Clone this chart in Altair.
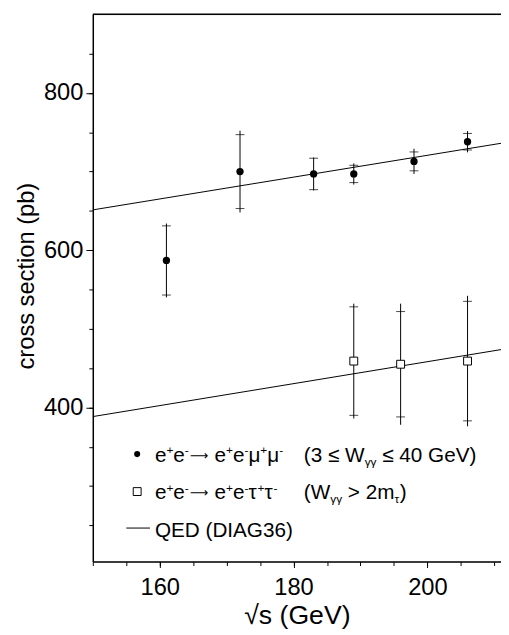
import altair as alt
import pandas as pd

# ---- data ----
sqrt_s_mu = [161, 172, 183, 189, 198, 206]
xsec_mu = [587, 700, 697, 697, 713, 738]
stat_mu = [44, 47, 20, 11, 12, 10.5]
tot_mu = [47, 52, 21, 13.5, 16, 13.5]

sqrt_s_tau = [189, 196, 206]
xsec_tau = [459, 455, 459]
stat_tau = [69, 67, 76]
tot_tau = [73, 77, 83]

qed_sqrt_s = [150, 211]
qed_mu = [651.3, 736.0]
qed_tau = [388.4, 473.6]

x_major = [160, 180, 200]
x_minor = list(range(150, 215, 5))
y_major = [400, 600, 800]
y_minor = list(range(250, 900, 50))

X_DOMAIN = [150, 211]
Y_DOMAIN = [204, 900]

FONT = "Liberation Sans"

# ---- tables ----
pts = pd.DataFrame({
    "s": sqrt_s_mu + sqrt_s_tau,
    "xs": xsec_mu + xsec_tau,
    "stat": stat_mu + stat_tau,
    "tot": tot_mu + tot_tau,
    "proc": ["mu"] * len(sqrt_s_mu) + ["tau"] * len(sqrt_s_tau),
})
qed = pd.DataFrame({
    "s": qed_sqrt_s * 2,
    "xs": qed_mu + qed_tau,
    "proc": ["mu"] * len(qed_sqrt_s) + ["tau"] * len(qed_sqrt_s),
})

xs_ = alt.Scale(domain=X_DOMAIN, nice=False, zero=False)
ys_ = alt.Scale(domain=Y_DOMAIN, nice=False, zero=False)

# ---- legend text pieces (layout helper, Arial/Liberation metrics) ----
WID = {" ": 278, "e": 556, "(": 333, ")": 333, "W": 944, "G": 778, "V": 667,
       ">": 584, "m": 833, "≤": 549, "μ": 576, "τ": 440, "γ": 500,
       "+": 584, "-": 333, "Q": 778, "E": 667, "D": 722, "I": 278, "A": 667}
FS, FS_S, FS_ARROW = 21, 12, 13


def tw(s, fs):
    return sum(WID.get(c, 556) for c in s) * fs / 1000.0


def pieces(parts, x0, base):
    out = []
    x = x0
    for txt, kind in parts:
        if kind == "gap":
            x += 0.278 * FS
            continue
        if kind == "arrow":
            out.append({"t": txt, "px": x + 1, "py": base - 2, "fs": FS_ARROW, "f": "arrow"})
            x += 1.7 * FS_ARROW + 4
            continue
        fs = FS if kind == "n" else FS_S
        dy = 0 if kind == "n" else (-8 if kind == "sup" else 4)
        out.append({"t": txt, "px": x, "py": base + dy, "fs": fs, "f": "main"})
        x += tw(txt, fs)
    return out


rowA_mu = [("e", "n"), ("+", "sup"), ("e", "n"), ("-", "sup"), ("⟶", "arrow"), ("e", "n"), ("+", "sup"),
           ("e", "n"), ("-", "sup"), ("μ", "n"), ("+", "sup"), ("μ", "n"), ("-", "sup")]
rowB_mu = [("(3 ≤ W", "n"), ("γγ", "sub"), ("", "gap"), ("≤ 40 GeV)", "n")]
rowA_tau = [("e", "n"), ("+", "sup"), ("e", "n"), ("-", "sup"), ("⟶", "arrow"), ("e", "n"), ("+", "sup"),
            ("e", "n"), ("-", "sup"), ("τ", "n"), ("+", "sup"), ("τ", "n"), ("-", "sup")]
rowB_tau = [("(W", "n"), ("γγ", "sub"), ("", "gap"), ("> 2m", "n"), ("τ", "sub"), (")", "n")]
row_qed = [("QED (DIAG36)", "n")]

leg = (pieces(rowA_mu, 63, 454) + pieces(rowB_mu, 214, 454)
       + pieces(rowA_tau, 63, 492) + pieces(rowB_tau, 214, 492)
       + pieces(row_qed, 63, 530))
leg_df = pd.DataFrame(leg)

AX = dict(domainColor="black", tickColor="black", labelColor="black", titleColor="black",
          labelFont=FONT, titleFont=FONT, titleFontWeight="normal", grid=False)

# ---- layers ----
minor_x = alt.Chart(pd.DataFrame({"v": x_minor})).mark_tick(opacity=0).encode(
    x=alt.X("v:Q", scale=xs_, axis=alt.Axis(values=x_minor, orient="bottom", labels=False,
                                             domain=False, tickSize=4, tickWidth=1, title="", **AX))
)
minor_y = alt.Chart(pd.DataFrame({"v": y_minor})).mark_tick(opacity=0).encode(
    y=alt.Y("v:Q", scale=ys_, axis=alt.Axis(values=y_minor, orient="left", labels=False,
                                             domain=False, tickSize=4, tickWidth=1, title="", **AX))
)

top_rule = alt.Chart(pd.DataFrame({"v": [900]})).mark_rule(color="black", strokeWidth=1.5).encode(
    y=alt.Y("v:Q", scale=ys_, axis=None)
)

lines = alt.Chart(qed).mark_line(color="black", strokeWidth=1, clip=True).encode(
    x=alt.X("s:Q", scale=xs_, axis=alt.Axis(
        values=x_major, orient="bottom", tickSize=6, tickWidth=1, format="d",
        domainWidth=1.5, labelFontSize=24, labelBaseline="alphabetic", labelPadding=27,
        labelFlush=False, title="√s (GeV)", titleFontSize=27, titleY=63,
        titleBaseline="alphabetic", **AX)),
    y=alt.Y("xs:Q", scale=ys_, axis=alt.Axis(
        values=y_major, orient="left", tickSize=7, tickWidth=1, format="d",
        domainWidth=1.5, labelFontSize=24, labelPadding=3,
        title="cross section (pb)", titleFontSize=24, titleAngle=270, titleX=-60, titleY=265,
        titleBaseline="alphabetic", titleAlign="center", **AX)),
    detail="proc:N",
)

base = alt.Chart(pts).transform_calculate(
    tlo="datum.xs - datum.tot", thi="datum.xs + datum.tot",
    slo="datum.xs - datum.stat", shi="datum.xs + datum.stat",
)

err = base.mark_rule(color="black", strokeWidth=1).encode(
    x=alt.X("s:Q", scale=xs_, axis=None),
    y=alt.Y("tlo:Q", scale=ys_, axis=None),
    y2="thi:Q",
)
cap_lo = base.mark_point(shape="M-1,0L1,0", size=81, filled=False, color="black", strokeWidth=1).encode(
    x=alt.X("s:Q", scale=xs_, axis=None),
    y=alt.Y("slo:Q", scale=ys_, axis=None),
)
cap_hi = base.mark_point(shape="M-1,0L1,0", size=81, filled=False, color="black", strokeWidth=1).encode(
    x=alt.X("s:Q", scale=xs_, axis=None),
    y=alt.Y("shi:Q", scale=ys_, axis=None),
)
mu_pts = base.transform_filter("datum.proc == 'mu'").mark_point(
    shape="circle", filled=True, size=55, color="black", opacity=1).encode(
    x=alt.X("s:Q", scale=xs_, axis=None),
    y=alt.Y("xs:Q", scale=ys_, axis=None),
)
tau_pts = base.transform_filter("datum.proc == 'tau'").mark_point(
    shape="square", filled=True, size=64, fill="white", stroke="black", strokeWidth=1, opacity=1).encode(
    x=alt.X("s:Q", scale=xs_, axis=None),
    y=alt.Y("xs:Q", scale=ys_, axis=None),
)

# legend
leg_text = alt.Chart(leg_df).transform_filter("datum.f == 'main'").mark_text(
    align="left", baseline="alphabetic", color="black", font=FONT).encode(
    x=alt.X("px:Q", scale=None, axis=None),
    y=alt.Y("py:Q", scale=None, axis=None),
    size=alt.Size("fs:Q", scale=None, legend=None),
    text="t:N",
)
leg_arrow = alt.Chart(leg_df).transform_filter("datum.f == 'arrow'").mark_text(
    align="left", baseline="alphabetic", color="black", font="DejaVu Sans").encode(
    x=alt.X("px:Q", scale=None, axis=None),
    y=alt.Y("py:Q", scale=None, axis=None),
    size=alt.Size("fs:Q", scale=None, legend=None),
    text="t:N",
)
leg_dot = alt.Chart(pd.DataFrame({"a": [0]})).mark_point(
    shape="circle", filled=True, size=38, color="black", opacity=1).encode(
    x=alt.value(45), y=alt.value(446))
leg_sq = alt.Chart(pd.DataFrame({"a": [0]})).mark_point(
    shape="square", filled=True, size=64, fill="white", stroke="black", strokeWidth=1, opacity=1).encode(
    x=alt.value(45), y=alt.value(484))
leg_line = alt.Chart(pd.DataFrame({"a": [0]})).mark_rule(color="black", strokeWidth=1).encode(
    x=alt.value(34), x2=alt.value(58), y=alt.value(521))

chart = alt.layer(
    minor_x, minor_y, top_rule, lines, err, cap_lo, cap_hi, mu_pts, tau_pts,
    leg_text, leg_arrow, leg_dot, leg_sq, leg_line,
).resolve_scale(
    x="independent", y="independent", size="independent"
).resolve_axis(
    x="independent", y="independent"
).properties(
    width=414, height=555,
    autosize=alt.AutoSizeParams(type="none"),
    padding={"left": 86, "top": 2, "right": 0, "bottom": 68},
).configure_view(
    stroke=None
).configure(
    font=FONT, background="white"
)

chart.save("out.html", embed_options={"renderer": "svg", "actions": False})
